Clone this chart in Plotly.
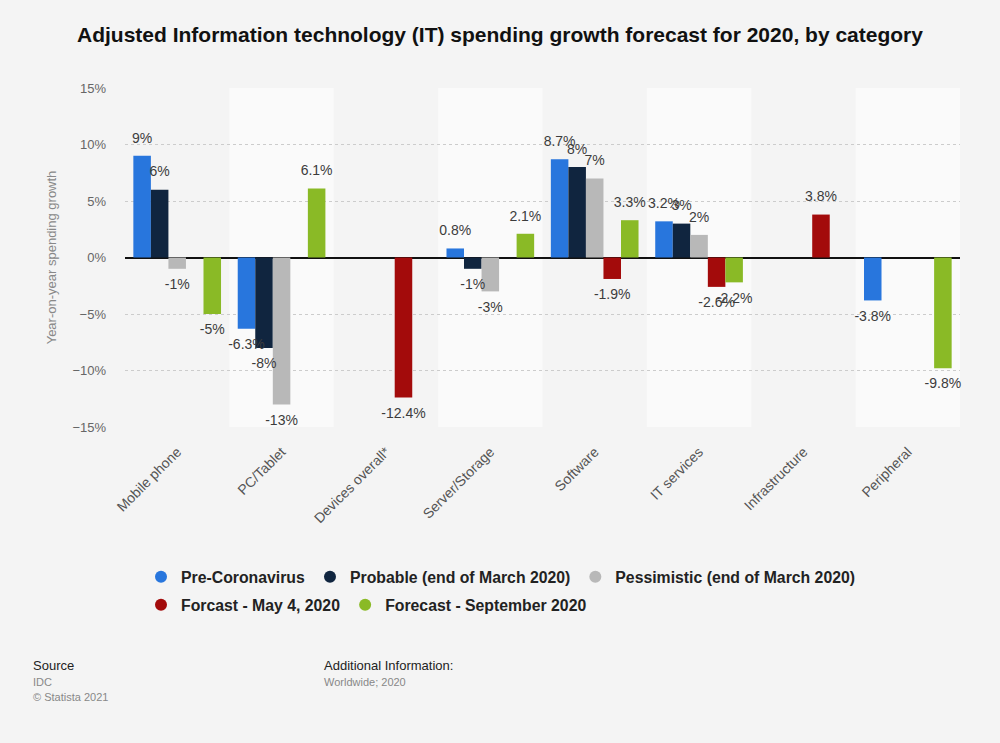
import plotly.graph_objects as go

categories = ["Mobile phone", "PC/Tablet", "Devices overall*", "Server/Storage",
              "Software", "IT services", "Infrastructure", "Peripheral"]
series_names = ["Pre-Coronavirus", "Probable (end of March 2020)",
                "Pessimistic (end of March 2020)", "Forcast - May 4, 2020",
                "Forecast - September 2020"]
pre_corona = [9, -6.3, None, 0.8, 8.7, 3.2, None, -3.8]
probable = [6, -8, None, -1, 8, 3, None, None]
pessimistic = [-1, -13, None, -3, 7, 2, None, None]
forecast_may = [None, None, -12.4, None, -1.9, -2.6, 3.8, None]
forecast_sep = [-5, 6.1, None, 2.1, 3.3, -2.2, None, -9.8]
colors = ["#2876dd", "#10253f", "#b8b8b8", "#a30b0b", "#8aba26"]

all_series = [pre_corona, probable, pessimistic, forecast_may, forecast_sep]

FONT = "Liberation Sans, Arial, sans-serif"
fig = go.Figure()
for i, (name, vals, col) in enumerate(zip(series_names, all_series, colors)):
    fig.add_trace(go.Bar(
        x=categories, y=vals, name=name, marker_color=col, marker_line_width=0,
        offsetgroup=str(i), showlegend=False, hoverinfo="skip"))

# value labels, grouped like the bars
for i, (name, vals) in enumerate(zip(series_names, all_series)):
    labels = [("" if v is None else f"{v:g}%") for v in vals]
    positions = [("bottom center" if (v is not None and v < 0) else "top center") for v in vals]
    fig.add_trace(go.Scatter(
        x=categories, y=vals, mode="markers+text", text=labels,
        textposition=positions, offsetgroup=str(i),
        marker=dict(size=14, opacity=0), cliponaxis=False,
        textfont=dict(size=14, color="#3c3c3c", family=FONT),
        showlegend=False, hoverinfo="skip"))

# legend entries with circular markers
for i, (name, col) in enumerate(zip(series_names, colors)):
    fig.add_trace(go.Scatter(
        x=[None], y=[None], mode="markers", name=name,
        marker=dict(symbol="circle", size=15, color=col),
        legend="legend" if i < 3 else "legend2"))

shapes = []
for i in range(len(categories)):
    if i % 2 == 1:
        shapes.append(dict(type="rect", xref="x", yref="paper",
                           x0=i - 0.5, x1=i + 0.5, y0=0, y1=1,
                           fillcolor="#fafafa", line_width=0, layer="below"))

W, H = 1000, 743
L, R, T, B = 125, 40, 88, 316
pw, ph = W - L - R, H - T - B

def px(x):
    return (x - L) / pw

def py(y):
    return (H - B - y) / ph

legend_common = dict(orientation="h", xref="container", yref="container",
                     xanchor="left", yanchor="middle", bgcolor="rgba(0,0,0,0)",
                     font=dict(size=15.8, color="#222222", family=FONT, weight="bold"),
                     itemsizing="constant", tracegroupgap=0)

fig.update_layout(
    width=W, height=H,
    margin=dict(l=L, r=R, t=T, b=B),
    paper_bgcolor="#f4f4f4", plot_bgcolor="#f4f4f4",
    font=dict(family=FONT, color="#666666"),
    title=dict(text="<b>Adjusted Information technology (IT) spending growth forecast for 2020, by category</b>",
               x=0.5, xanchor="center", y=1 - 35 / H, yanchor="middle",
               font=dict(size=21, color="#111111", family=FONT)),
    barmode="group", bargap=0.16, bargroupgap=0.0,
    scattermode="group", scattergap=0.16,
    shapes=shapes,
    xaxis=dict(tickangle=-45, tickfont=dict(size=14, color="#555555"),
               showgrid=False, zeroline=False, showline=False, ticks="",
               ticklabelstandoff=13,
               range=[-0.5, len(categories) - 0.5]),
    yaxis=dict(range=[-15, 15], dtick=5, ticksuffix="%",
               tickfont=dict(size=13, color="#666666"),
               showgrid=True, gridcolor="#cccccc", griddash="dot", gridwidth=1,
               zeroline=True, zerolinecolor="#111111", zerolinewidth=2,
               ticklabelstandoff=18,
               title=dict(text="Year-on-year spending growth", standoff=12,
                          font=dict(size=13, color="#888888"))),
    legend=dict(x=0.141, y=1 - 577 / H, **legend_common),
    legend2=dict(x=0.141, y=1 - 605 / H, **legend_common),
    annotations=[
        dict(text="Source", x=px(31), y=py(665), xref="paper", yref="paper",
             xanchor="left", yanchor="middle", showarrow=False,
             font=dict(size=13, color="#222222", family=FONT)),
        dict(text="IDC", x=px(31), y=py(682), xref="paper", yref="paper",
             xanchor="left", yanchor="middle", showarrow=False,
             font=dict(size=11, color="#888888", family=FONT)),
        dict(text="© Statista 2021", x=px(31), y=py(697), xref="paper", yref="paper",
             xanchor="left", yanchor="middle", showarrow=False,
             font=dict(size=11, color="#888888", family=FONT)),
        dict(text="Additional Information:", x=px(322), y=py(665), xref="paper", yref="paper",
             xanchor="left", yanchor="middle", showarrow=False,
             font=dict(size=13, color="#222222", family=FONT)),
        dict(text="Worldwide; 2020", x=px(322), y=py(682), xref="paper", yref="paper",
             xanchor="left", yanchor="middle", showarrow=False,
             font=dict(size=11, color="#888888", family=FONT)),
    ],
)

fig.write_html("out.html", config={"displayModeBar": False},
               post_script="document.body.style.margin='0px';")
